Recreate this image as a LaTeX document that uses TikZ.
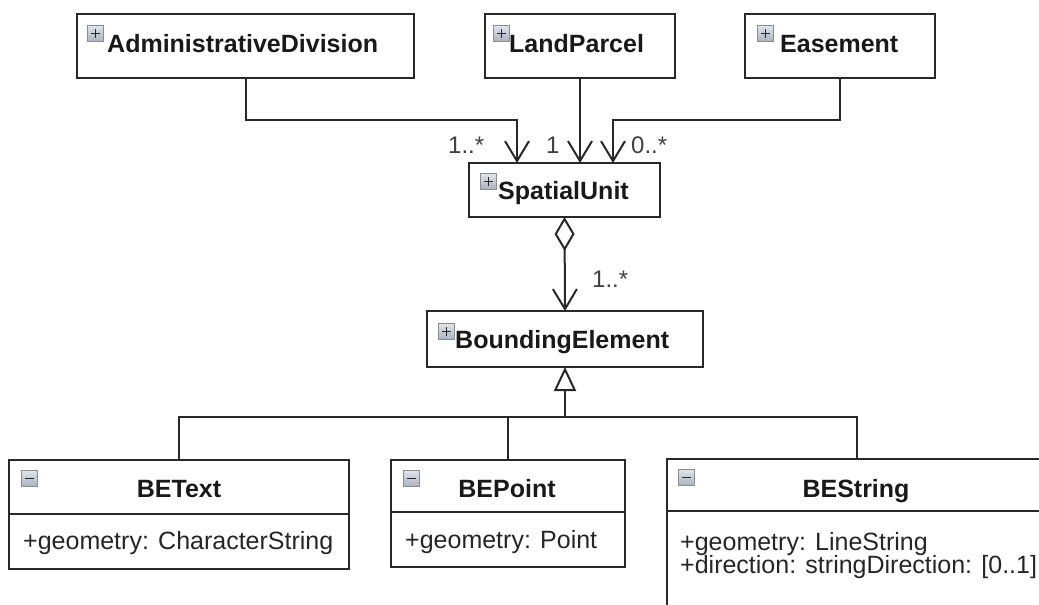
\documentclass[tikz,border=0pt]{standalone}
\usepackage{fontspec}
\setmainfont{Liberation Sans}
\usetikzlibrary{arrows.meta,calc}
\definecolor{linec}{RGB}{40,40,40}
\definecolor{icontop}{RGB}{225,229,235}
\definecolor{iconbot}{RGB}{170,178,190}
\tikzset{
  cls/.style={draw=linec, line width=2pt, fill=white, rectangle, inner sep=0pt, outer sep=0pt, anchor=north west},
  ttl/.style={font=\fontsize{25}{30}\selectfont\bfseries, inner sep=0pt, anchor=base west, text=black!90},
  ttlc/.style={font=\fontsize{25}{30}\selectfont\bfseries, inner sep=0pt, anchor=base, text=black!90},
  attr/.style={font=\fontsize{25}{22}\selectfont, inner sep=0pt, anchor=base west, text=black!85},
  mult/.style={font=\fontsize{24}{28}\selectfont, inner sep=0pt, anchor=base west, text=black!75},
  iconbox/.style={draw=black!45, line width=0.8pt, top color=icontop, bottom color=iconbot, minimum size=16pt, inner sep=0pt, anchor=north west},
  plusicon/.style={iconbox, path picture={
      \draw[line width=1.6pt, black!85] ([xshift=-4.5pt]path picture bounding box.center) -- ([xshift=4.5pt]path picture bounding box.center);
      \draw[line width=1.6pt, black!85] ([yshift=-4.5pt]path picture bounding box.center) -- ([yshift=4.5pt]path picture bounding box.center);}},
  minusicon/.style={iconbox, path picture={
      \draw[line width=1.6pt, black!85] ([xshift=-4.5pt]path picture bounding box.center) -- ([xshift=4.5pt]path picture bounding box.center);}},
  conn/.style={draw=linec, line width=2pt},
  nav/.style={conn, -{Straight Barb[length=20pt, width=24pt]}},
  agg/.style={conn, {Diamond[open, length=34pt, width=20pt]}-{Straight Barb[length=20pt, width=24pt]}},
  gen/.style={conn, -{Triangle[open, length=24pt, width=22pt]}}
}
\begin{document}
\begin{tikzpicture}[x=1pt, y=-1pt]
\useasboundingbox (0,0) rectangle (1039,605);
\fill[white] (0,0) rectangle (1039,605);
\clip (0,0) rectangle (1039,605);

% top classes
\node[cls, minimum width=337pt, minimum height=64pt] (ad) at (77,14) {};
\node[cls, minimum width=190pt, minimum height=64pt] (lp) at (485,14) {};
\node[cls, minimum width=190pt, minimum height=64pt] (es) at (745,14) {};
\node[plusicon] (adi) at (87,25) {};
\node[plusicon] (lpi) at (493,25) {};
\node[plusicon] (esi) at (757,25) {};
\node[ttl] (adt) at (107,52) {AdministrativeDivision};
\node[ttl] (lpt) at (509,52) {LandParcel};
\node[ttl] (est) at (780,52) {Easement};

% SpatialUnit
\node[cls, minimum width=191pt, minimum height=54pt] (su) at (469,163) {};
\node[plusicon] (sui) at (480,173) {};
\node[ttl] (sut) at (498,199) {SpatialUnit};

% BoundingElement
\node[cls, minimum width=276pt, minimum height=56pt] (be) at (427,311) {};
\node[plusicon] (bei) at (438,323) {};
\node[ttl] (bet) at (455,348) {BoundingElement};

% BEText
\node[cls, minimum width=340pt, minimum height=54pt] (bt) at (9,460) {};
\node[cls, minimum width=340pt, minimum height=55pt] (bta) at (9,514) {};
\node[minusicon] (bti) at (21,470) {};
\node[ttlc] (btt) at (179,497) {BEText};
\node[attr] (btx) at (23,549) {+geometry: CharacterString};

% BEPoint
\node[cls, minimum width=234pt, minimum height=52pt] (bp) at (391,460) {};
\node[cls, minimum width=234pt, minimum height=55pt] (bpa) at (391,512) {};
\node[minusicon] (bpi) at (403,470) {};
\node[ttlc] (bpt) at (507,497) {BEPoint};
\node[attr] (bpx) at (405,548) {+geometry: Point};

% BEString
\node[cls, minimum width=380pt, minimum height=52pt] (bs) at (667,459) {};
\node[cls, minimum width=380pt, minimum height=120pt] (bsa) at (667,511) {};
\node[minusicon] (bsi) at (678,469) {};
\node[ttlc] (bst) at (856,497) {BEString};
\node[attr] (bsx1) at (680,550) {+geometry: LineString};
\node[attr] (bsx2) at (680,573) {+direction: stringDirection: [0..1]};

% associations to SpatialUnit
\draw[nav] (ad.south) -- ++(0,42) -| ([xshift=-47.5pt]su.north);
\draw[nav] (lp.south) -- (lp.south |- su.north);
\draw[nav] (es.south) -- ++(0,42) -| ([xshift=48.5pt]su.north);
\node[mult] (m1) at (448,153) {1..*};
\node[mult] (m2) at (546,153) {1};
\node[mult] (m3) at (631,153) {0..*};

% aggregation
\draw[agg] (su.south) -- (be.north);
\node[mult] (m4) at (592,287) {1..*};

% generalization
\coordinate (j) at ($(be.south)+(0,50)$);
\draw[conn] (bt.north) |- (j);
\draw[conn] (bp.north) |- (j);
\draw[conn] (bs.north) |- (j);
\draw[gen] (j) -- (be.south);
\end{tikzpicture}
\end{document}
